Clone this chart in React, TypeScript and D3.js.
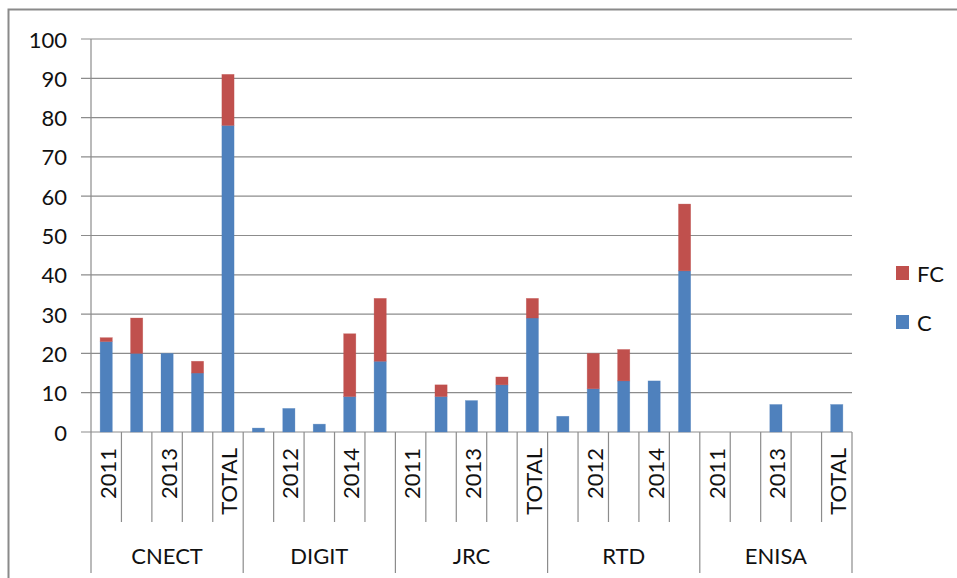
import React from "react";
import * as d3 from "d3";

const groups = ["CNECT", "DIGIT", "JRC", "RTD", "ENISA"];
const years = ["2011", "2012", "2013", "2014", "TOTAL"];
const cValues = [
  23, 20, 20, 15, 78,
  1, 6, 2, 9, 18,
  0, 9, 8, 12, 29,
  4, 11, 13, 13, 41,
  0, 0, 7, 0, 7,
];
const fcValues = [
  1, 9, 0, 3, 13,
  0, 0, 0, 16, 16,
  0, 3, 0, 2, 5,
  0, 9, 8, 0, 17,
  0, 0, 0, 0, 0,
];
const yTicks = [0, 10, 20, 30, 40, 50, 60, 70, 80, 90, 100];
const seriesNames = ["FC", "C"];

const W = 957;
const H = 578;
const left = 91;
const right = 852;
const top = 39;
const bottom = 432;
const FONT = "Lato, 'Open Sans', sans-serif";
const FS = 22;
const BLUE = "#4F81BD";
const RED = "#C0504D";
const GRID = "#8c8c8c";

export default function App() {
  const keys = groups.flatMap((g) => years.map((y) => `${g}|${y}`));
  const rows = keys.map((k, i) => ({ key: k, C: cValues[i], FC: fcValues[i] }));
  const x = d3.scaleBand<string>().domain(keys).range([left, right]).paddingInner(0.6).paddingOuter(0.3);
  const step = (right - left) / keys.length;
  const y = d3.scaleLinear().domain([0, 100]).range([bottom, top]);
  const stack = d3.stack<any>().keys(["C", "FC"])(rows);
  const colors: Record<string, string> = { C: BLUE, FC: RED };

  return (
    <svg width={W} height={H} style={{ position: "absolute", left: 0, top: 0, background: "#fff" }} fontFamily={FONT}>
      <rect x={0} y={0} width={W} height={H} fill="#fff" />
      <rect x={8.5} y={9.5} width={W + 20} height={H + 20} fill="none" stroke="#8a8a8a" strokeWidth={2} />
      {yTicks.map((t) => (
        <g key={t}>
          <line x1={81} x2={right} y1={y(t)} y2={y(t)} stroke={GRID} strokeWidth={1.2} />
          <text x={67} y={y(t)} textAnchor="end" dominantBaseline="central" fontSize={FS} fill="#111">
            {t}
          </text>
        </g>
      ))}
      <line x1={left} x2={left} y1={top} y2={bottom} stroke={GRID} strokeWidth={1.2} />
      {stack.map((s) =>
        s.map((d, i) => {
          const h = y(d[0]) - y(d[1]);
          if (h <= 0) return null;
          return (
            <rect
              key={`${s.key}-${i}`}
              x={x(keys[i])}
              y={y(d[1])}
              width={x.bandwidth()}
              height={h}
              fill={colors[s.key]}
              stroke={colors[s.key]}
              strokeOpacity={0.5}
              strokeWidth={0.6}
            />
          );
        })
      )}
      {d3.range(keys.length + 1).map((i) => {
        const xx = left + i * step;
        const isGroup = i % 5 === 0;
        return <line key={`sep${i}`} x1={xx} x2={xx} y1={bottom} y2={isGroup ? 573 : 522} stroke={GRID} strokeWidth={1.2} />;
      })}
      {keys.map((k, i) => {
        if (i % 2 !== 0) return null;
        const cx = (x(k) as number) + x.bandwidth() / 2 + 1;
        const label = k.split("|")[1];
        return (
          <text
            key={`lab${i}`}
            transform={`translate(${cx},448) rotate(-90)`}
            textAnchor="end"
            dominantBaseline="central"
            fontSize={FS}
            fill="#111"
          >
            {label}
          </text>
        );
      })}
      {groups.map((g, gi) => {
        const cx = left + (gi * 5 + 2.5) * step;
        return (
          <text key={g} x={cx} y={555} textAnchor="middle" dominantBaseline="central" fontSize={FS} fill="#111">
            {g}
          </text>
        );
      })}
      {seriesNames.map((n, i) => (
        <g key={n}>
          <rect x={896} y={266 + i * 49} width={13} height={14} fill={colors[n]} />
          <text x={917} y={273 + i * 49} dominantBaseline="central" fontSize={FS} fill="#111">
            {n}
          </text>
        </g>
      ))}
    </svg>
  );
}
